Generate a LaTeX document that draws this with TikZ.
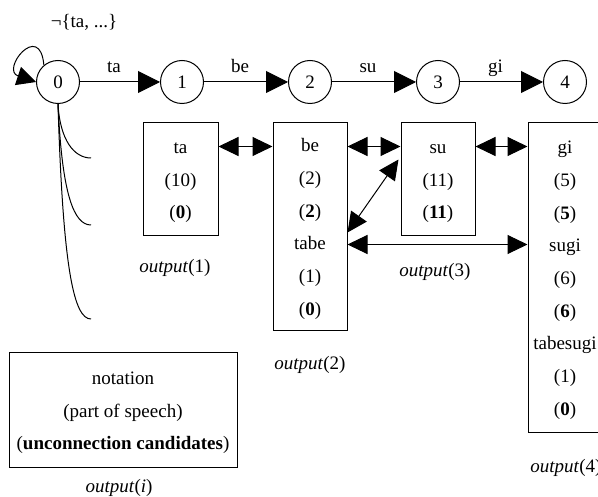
\documentclass[tikz,border=0pt]{standalone}
\usepackage{fontspec}
\setmainfont{Liberation Serif}
\usetikzlibrary{arrows.meta,calc}
\newcommand\rowtxt[1]{#1\strut}
\begin{document}
\begin{tikzpicture}[x=1pt,y=-1pt,line width=1pt,
  every node/.style={font=\fontsize{19}{32.7}\selectfont},
  state/.style={circle,draw,minimum size=43pt,inner sep=0pt},
  box/.style={draw,rectangle,inner sep=0pt,align=center},
  tri/.style={-{Triangle[length=22pt,width=22pt]}},
  looptri/.style={-{Triangle[length=19pt,width=19pt]}},
  dtri/.style={{Triangle[length=20pt,width=19pt]}-{Triangle[length=20pt,width=19pt]}},
  elab/.style={anchor=base,yshift=9pt,xshift=-6pt,inner sep=0pt},
  captxt/.style={inner sep=0pt}]
\clip (0,0) rectangle (598,497);
% states
\node[state] (s0) at (58,82) {0};
\node[state] (s1) at (182,82) {1};
\node[state] (s2) at (310,82) {2};
\node[state] (s3) at (438,82) {3};
\node[state] (s4) at (565,82) {4};
\node[captxt] (neg) at (84,22) {¬\{ta, ...\}};
\draw[tri] (s0) -- node[elab] {ta} (s1);
\draw[tri] (s1) -- node[elab] {be} (s2);
\draw[tri] (s2) -- node[elab] {su} (s3);
\draw[tri] (s3) -- node[elab] {gi} (s4);
\draw[looptri] (s0.130) .. controls (40,20) and (0,70) .. (s0.west);
% curves from state 0
\coordinate (c1) at (91,158);
\coordinate (c2) at (91,225);
\coordinate (c3) at (91,319);
\draw (s0.south) .. controls (60,140) and (74,158) .. (c1);
\draw (s0.south) .. controls (62,195) and (74,225) .. (c2);
\draw (s0.south) .. controls (63,270) and (74,319) .. (c3);
% boxes
\node[box,minimum width=75,minimum height=113] (b1) at (180.5,179.5)
  {\rowtxt{ta}\\\rowtxt{(10)}\\\rowtxt{(\textbf{0})}};
\node[box,minimum width=74,minimum height=208] (b2) at (310,227)
  {\rowtxt{be}\\\rowtxt{(2)}\\\rowtxt{(\textbf{2})}\\\rowtxt{tabe}\\\rowtxt{(1)}\\\rowtxt{(\textbf{0})}};
\node[box,minimum width=74,minimum height=113] (b3) at (438,179.5)
  {\rowtxt{su}\\\rowtxt{(11)}\\\rowtxt{(\textbf{11})}};
\node[box,minimum width=74,minimum height=310] (b4) at (565,278)
  {\rowtxt{gi}\\\rowtxt{(5)}\\\rowtxt{(\textbf{5})}\\\rowtxt{sugi}\\\rowtxt{(6)}\\\rowtxt{(\textbf{6})}\\\rowtxt{tabesugi}\\\rowtxt{(1)}\\\rowtxt{(\textbf{0})}};
\node[box,minimum width=228,minimum height=115] (bn) at (123,410.5)
  {\rowtxt{notation}\\\rowtxt{(part of speech)}\\\rowtxt{(\textbf{unconnection candidates})}};
% captions
\node[captxt] (o1) at (175,268) {\textit{output}(1)};
\node[captxt] (o2) at (310,365) {\textit{output}(2)};
\node[captxt] (o3) at (435,272) {\textit{output}(3)};
\node[captxt] (o4) at (566,468) {\textit{output}(4)};
\node[captxt] (oi) at (119,488) {\textit{output}(\textit{i})};
% connectors between boxes
\draw[dtri] ($(b1.north east)+(0,24)$) -- ($(b2.north west)+(0,24)$);
\draw[dtri] ($(b2.north east)+(0,24)$) -- ($(b3.north west)+(0,24)$);
\draw[dtri] ($(b3.north east)+(0,24)$) -- ($(b4.north west)+(0,24)$);
\draw[dtri] ($(b2.north east)+(0,110)$) -- ($(b3.north west)+(-2,37)$);
\draw[dtri] ($(b2.north east)+(0,122)$) -- ($(b4.north west)+(0,122)$);
\end{tikzpicture}
\end{document}
